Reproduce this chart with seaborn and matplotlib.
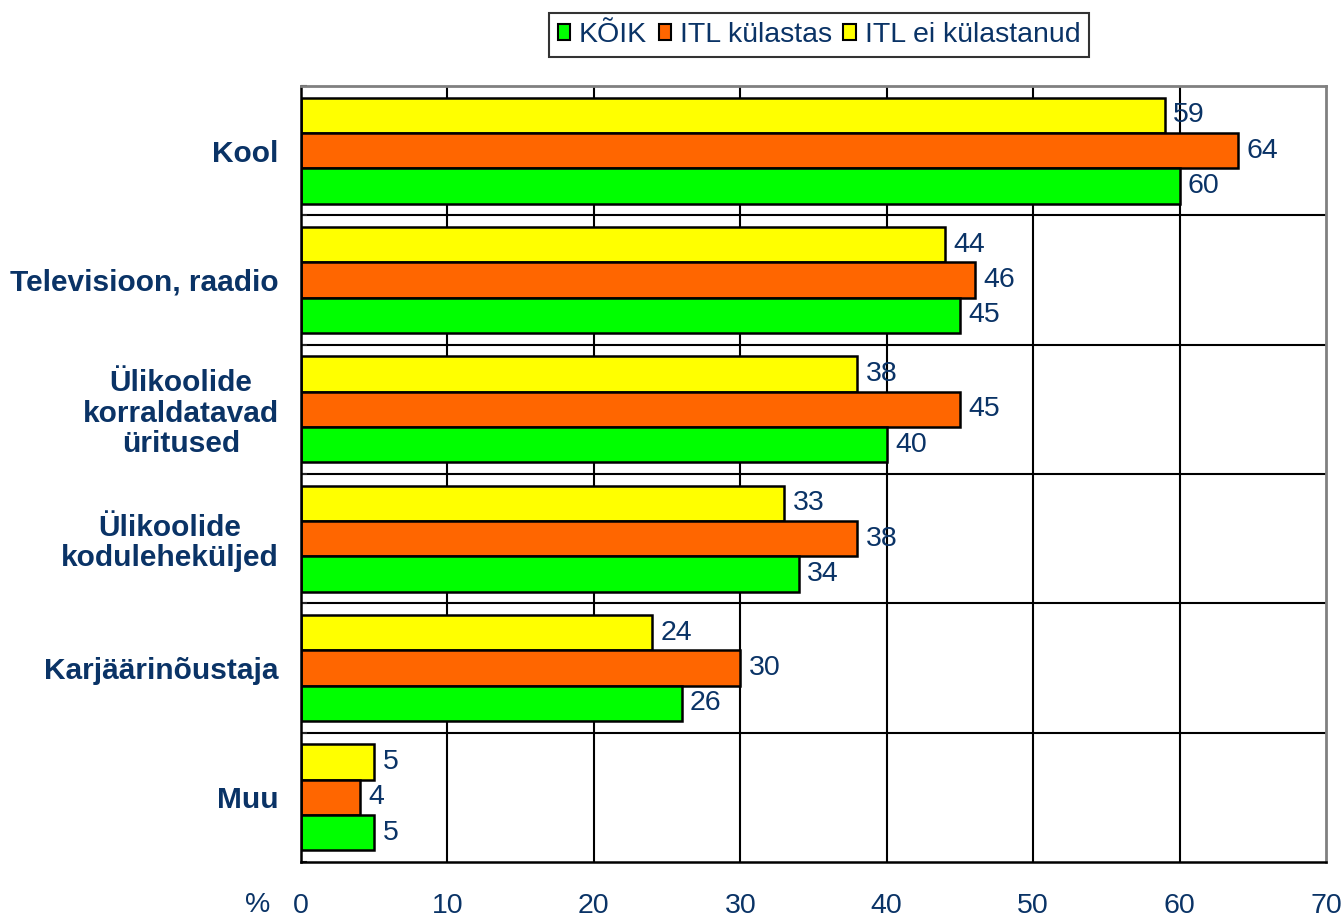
import pandas as pd
import matplotlib
matplotlib.use("Agg")
import matplotlib.pyplot as plt
import seaborn as sns
from matplotlib.patches import Patch

# andmed
categories = ["Kool", "Televisioon, raadio", "Ülikoolide\nkorraldatavad\nüritused",
              "Ülikoolide\nkoduleheküljed", "Karjäärinõustaja", "Muu"]
koik = [60, 45, 40, 34, 26, 5]
itl_kylastas = [64, 46, 45, 38, 30, 4]
itl_ei_kylastanud = [59, 44, 38, 33, 24, 5]

series_names = ["KÕIK", "ITL külastas", "ITL ei külastanud"]
colors = {"KÕIK": "#00ff00", "ITL külastas": "#ff6600", "ITL ei külastanud": "#ffff00"}
x_ticks = [0, 10, 20, 30, 40, 50, 60, 70]

df = pd.DataFrame({
    "kategooria": categories * 3,
    "grupp": [series_names[0]] * 6 + [series_names[1]] * 6 + [series_names[2]] * 6,
    "protsent": koik + itl_kylastas + itl_ei_kylastanud,
})

navy = "#0a3366"
sns.set_style("white")
plt.rcParams["font.family"] = ["Liberation Sans", "DejaVu Sans"]

fig = plt.figure(figsize=(13.44, 9.16), dpi=100)
ax = fig.add_axes([0.224, 0.059, 0.7626, 0.8471])

hue_order = ["ITL ei külastanud", "ITL külastas", "KÕIK"]
sns.barplot(data=df, y="kategooria", x="protsent", hue="grupp", hue_order=hue_order,
            order=categories, palette=colors, orient="h", width=0.82, saturation=1,
            edgecolor="black", linewidth=1.8, legend=False, ax=ax)

for cont in ax.containers:
    ax.bar_label(cont, fmt="%d", padding=6, color=navy, fontsize=20.5)

# ruudustik
ax.set_xlim(0, 70)
ax.set_ylim(len(categories) - 0.5, -0.5)
ax.set_xticks(x_ticks)
ax.set_xticklabels([str(t) for t in x_ticks], color=navy, fontsize=20.5)
for t in x_ticks[1:-1]:
    ax.axvline(t, color="black", lw=1.5, zorder=0)
for b in range(1, len(categories)):
    ax.axhline(b - 0.5, color="black", lw=1.5, zorder=0)
ax.tick_params(axis="x", direction="out", length=7, width=1.5, color="black", pad=15)
ax.set_yticks(range(len(categories)))
ax.set_yticklabels(categories, fontsize=21.5, fontweight="bold", color=navy,
                   multialignment="center", linespacing=1.12)
ax.set_yticks([b - 0.5 for b in range(len(categories) + 1)], minor=True)
ax.tick_params(axis="y", which="major", length=0, pad=16)
ax.tick_params(axis="y", which="minor", direction="in", length=4, width=1.5, left=True)
ax.set_xlabel("")
ax.set_ylabel("")
for s in ["left", "bottom"]:
    ax.spines[s].set_color("black")
    ax.spines[s].set_linewidth(1.8)
for s in ["top", "right"]:
    ax.spines[s].set_color("#808080")
    ax.spines[s].set_linewidth(2)

fig.text(258 / 1344, 1 - 905 / 916, "%", color=navy, fontsize=20.5, ha="center", va="center")

handles = [Patch(facecolor=colors[n], edgecolor="black", linewidth=1.5) for n in series_names]
leg = fig.legend(handles, series_names, loc="center", bbox_to_anchor=(819 / 1344, 1 - 35 / 916),
                 ncol=3, frameon=True, fancybox=False, edgecolor="black", fontsize=20.5,
                 handlelength=0.45, handleheight=0.45, handletextpad=0.3, columnspacing=0.4,
                 borderpad=0.3)
leg.get_frame().set_linewidth(1.5)
for txt in leg.get_texts():
    txt.set_color(navy)

fig.savefig("out.png", dpi=100)
